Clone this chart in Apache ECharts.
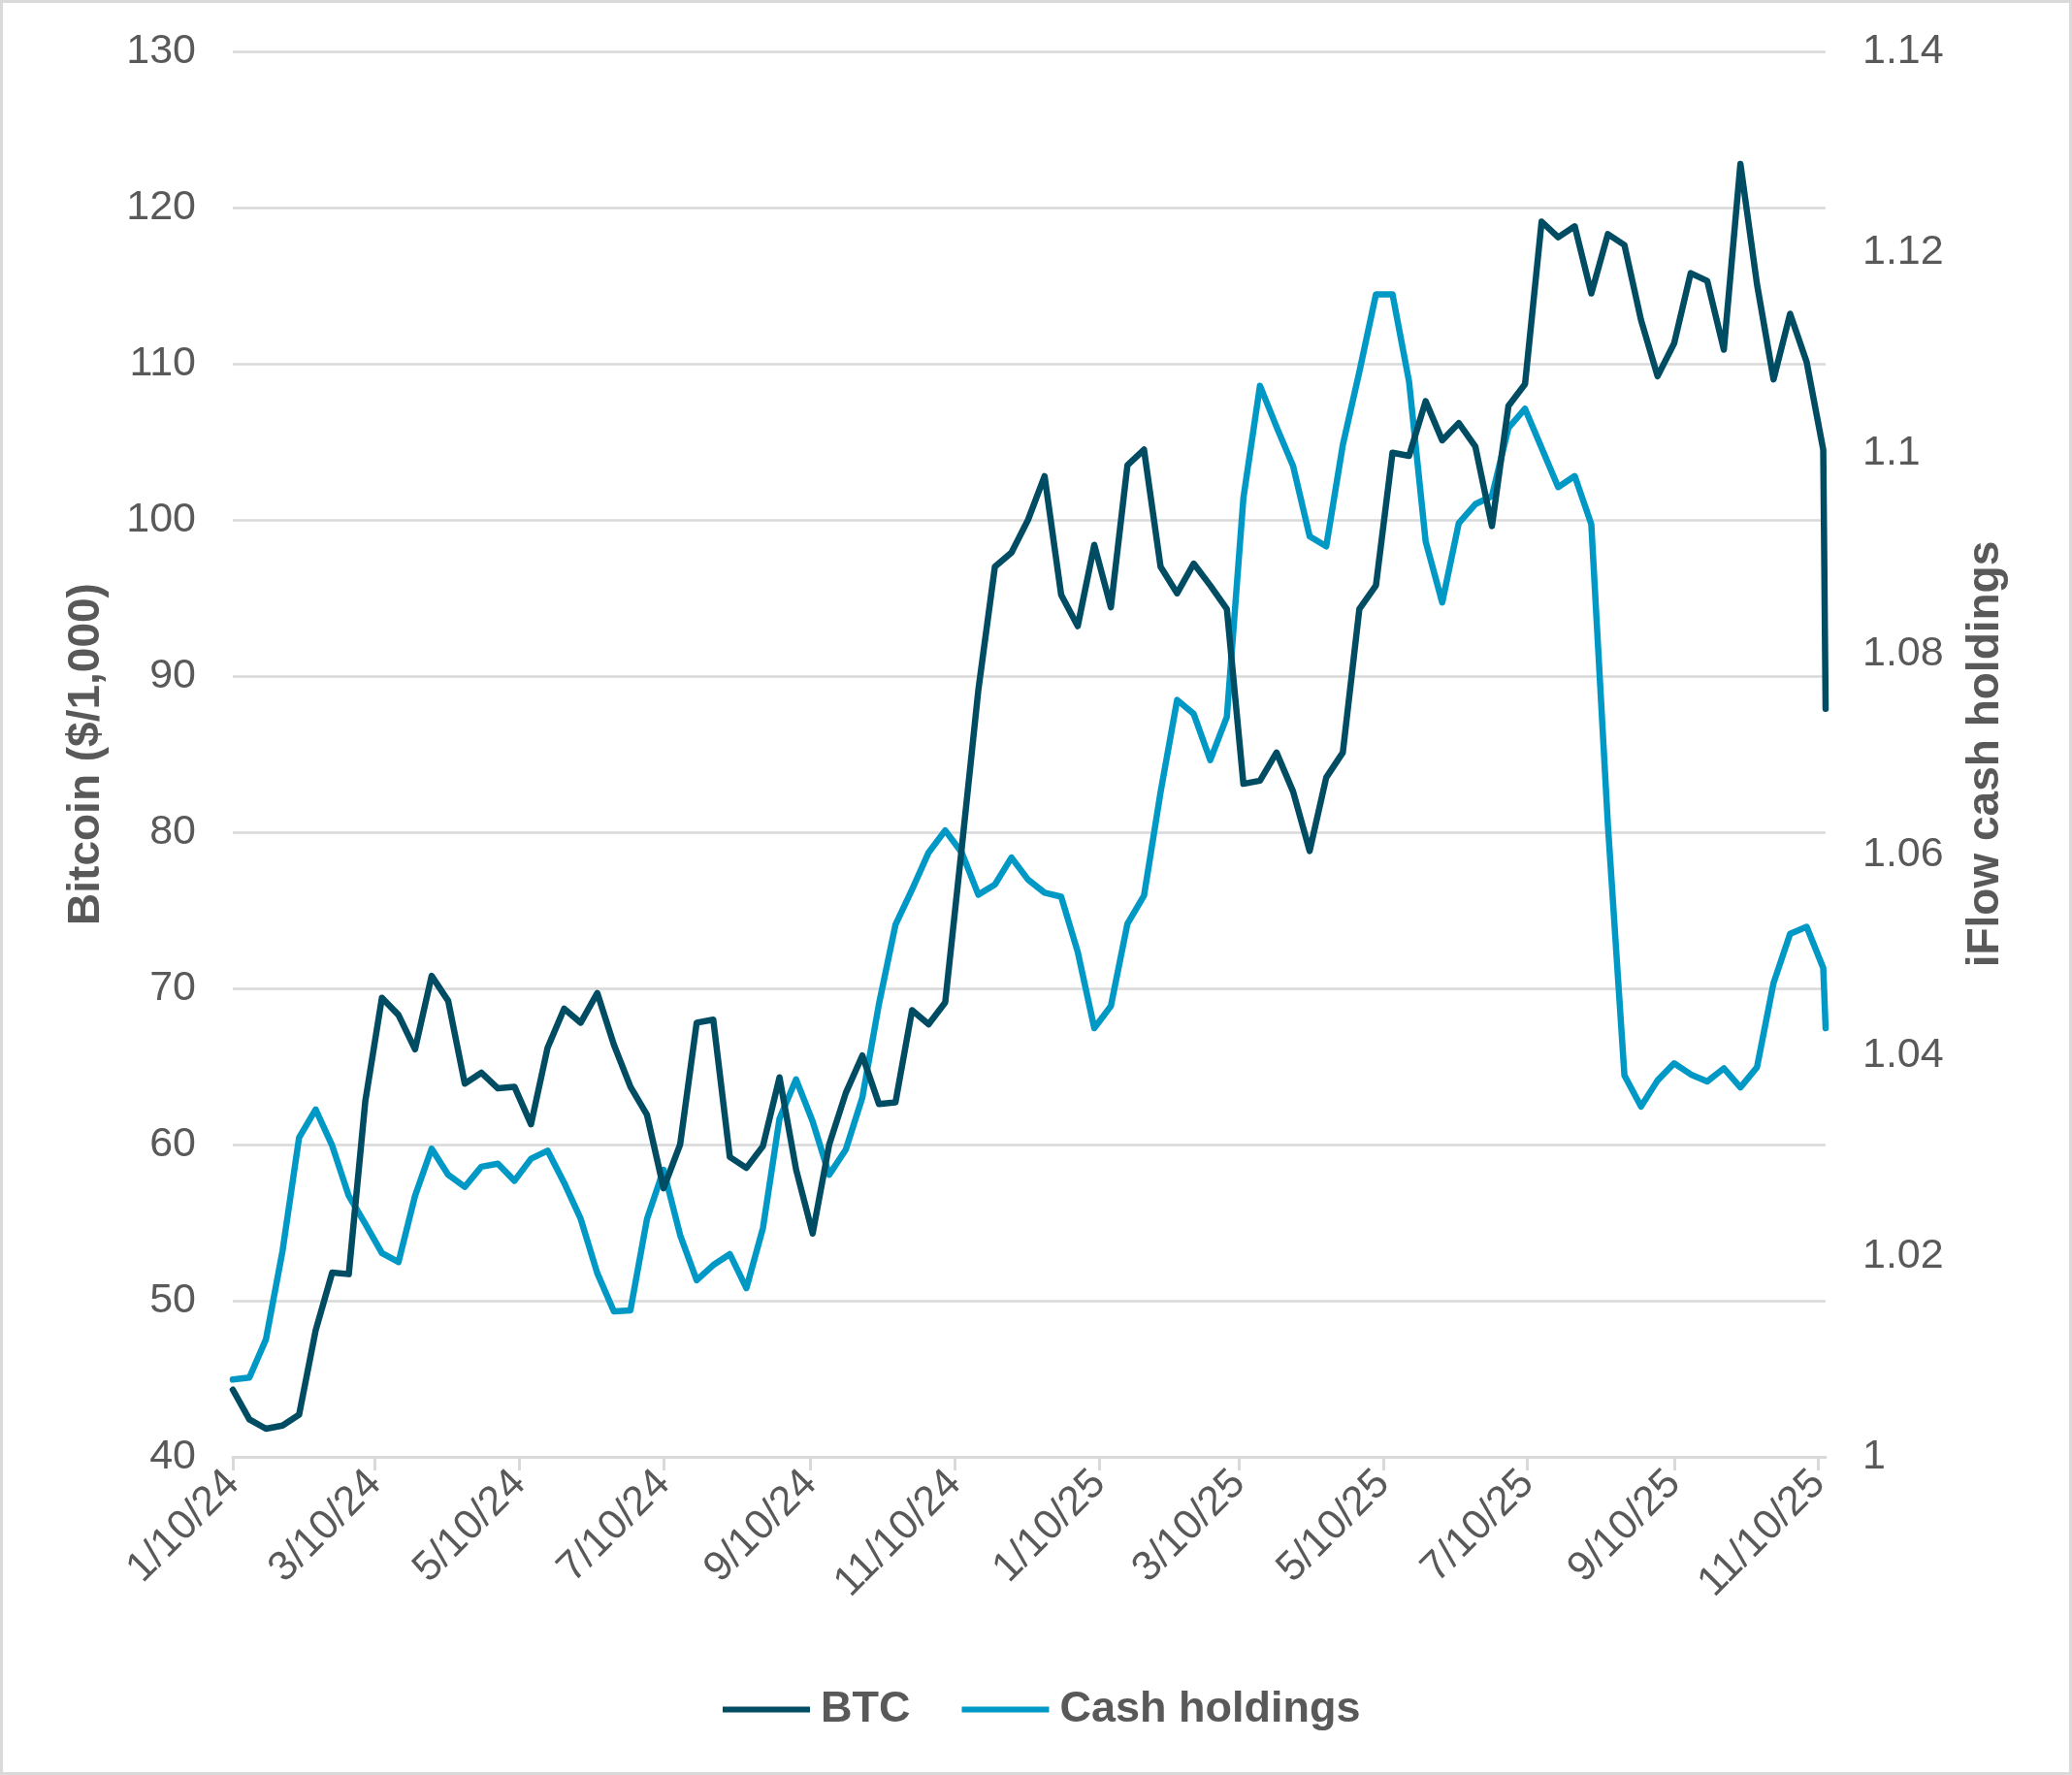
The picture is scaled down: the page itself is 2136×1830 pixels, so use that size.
<!DOCTYPE html>
<html>
<head>
<meta charset="utf-8">
<script src="https://cdn.jsdelivr.net/npm/echarts@6/dist/echarts.min.js"></script>
<style>
html,body{margin:0;padding:0;background:#fff;}
#c{position:absolute;left:0;top:0;width:2136px;height:1830px;}
#f{position:absolute;left:0;top:0;width:2136px;height:1830px;box-sizing:border-box;border:3px solid #d9d9d9;pointer-events:none;}
</style>
</head>
<body>
<div id="c"></div>
<div id="f"></div>
<script>
// Axis range (daily date axis)
const startDate = '2024-01-10';
const endDate = '2025-11-13';
// Tick labels shown on the x axis
const tickLabels = ['1/10/24','3/10/24','5/10/24','7/10/24','9/10/24','11/10/24','1/10/25','3/10/25','5/10/25','7/10/25','9/10/25','11/10/25'];
const leftTicks = [40, 130, 10];
const rightTicks = [1, 1.14, 0.02];

// Weekly observations (Wednesdays from 1/10/24) plus a final print on 11/13/25
const btcValues = [
 44.3,42.4,41.8,42.0,42.7,48.1,51.8,51.7,62.8,69.4,
 68.3,66.1,70.8,69.2,63.9,64.6,63.6,63.7,61.3,66.2,
 68.7,67.8,69.7,66.4,63.7,61.9,57.2,60.0,67.8,68.0,
 59.2,58.5,59.9,64.3,58.4,54.3,60.0,63.3,65.7,62.6,
 62.7,68.6,67.7,69.1,79.0,89.1,97.0,97.9,100.0,102.8,
 95.2,93.2,98.4,94.4,103.5,104.5,97.0,95.3,97.2,95.8,
 94.3,83.1,83.3,85.1,82.6,78.8,83.5,85.1,94.3,95.8,
 104.3,104.1,107.6,105.1,106.2,104.7,99.6,107.3,108.7,119.1,
 118.1,118.8,114.5,118.3,117.6,112.8,109.2,111.3,115.8,115.3,
 110.9,122.8,115.1,109.0,113.2,110.1,104.5,87.9
];
const cashValues = [
 1.0077,1.0079,1.0117,1.0205,1.0318,1.0346,1.0310,1.0260,1.0232,1.0203,
 1.0194,1.0260,1.0307,1.0281,1.0269,1.0289,1.0292,1.0275,1.0297,1.0305,
 1.0273,1.0237,1.0183,1.0145,1.0146,1.0237,1.0286,1.0221,1.0176,1.0191,
 1.0202,1.0168,1.0228,1.0337,1.0376,1.0334,1.0281,1.0306,1.0358,1.0451,
 1.0530,1.0565,1.0602,1.0624,1.0602,1.0560,1.0570,1.0597,1.0575,1.0562,
 1.0558,1.0503,1.0427,1.0449,1.0531,1.0559,1.0662,1.0754,1.0740,1.0694,
 1.0737,1.0955,1.1067,1.1026,1.0987,1.0917,1.0907,1.1008,1.1081,1.1158,
 1.1158,1.1071,1.0912,1.0851,1.0930,1.0949,1.0957,1.1025,1.1044,1.1005,
 1.0966,1.0977,1.0929,1.0630,1.0380,1.0349,1.0375,1.0392,1.0381,1.0374,
 1.0387,1.0368,1.0388,1.0472,1.0521,1.0528,1.0487,1.0427
];

const DAY = 86400000;
const t0 = Date.parse(startDate + 'T00:00:00Z');
const t1 = Date.parse(endDate + 'T00:00:00Z');
const nDays = Math.round((t1 - t0) / DAY);
function fmt(t){const d=new Date(t);return (d.getUTCMonth()+1)+'/'+d.getUTCDate()+'/'+String(d.getUTCFullYear()).slice(2);}
const categories = [];
for (let k = 0; k <= nDays; k++) categories.push(fmt(t0 + k * DAY));
// day offsets of the observations: weekly, last one on endDate
const obsIdx = btcValues.map((v, i) => (i === btcValues.length - 1) ? nDays : i * 7);
const tickSet = new Set(tickLabels);
const showTick = (idx, val) => tickSet.has(val);

const gray = '#595959';
const grid = '#d9d9d9';
const font = '"Liberation Sans", Arial, sans-serif';

const chart = echarts.init(document.getElementById('c'), null, {renderer: 'canvas'});
chart.setOption({
  animation: false,
  backgroundColor: '#fff',
  textStyle: {fontFamily: font},
  grid: {left: 240, right: 254, top: 53, bottom: 328, containLabel: false},
  legend: {
    data: ['BTC', 'Cash holdings'],
    left: 740, top: 1735,
    icon: 'rect', itemWidth: 90, itemHeight: 6, itemGap: 53,
    textStyle: {fontSize: 45, fontWeight: 'bold', color: gray, fontFamily: font, padding: [0,0,0,6]}
  },
  xAxis: {
    type: 'category', data: categories, boundaryGap: false,
    axisLine: {show: true, lineStyle: {color: grid, width: 3}},
    axisTick: {show: true, interval: showTick, length: 14, lineStyle: {color: grid, width: 3}},
    axisLabel: {interval: showTick, rotate: 45, margin: 21, fontSize: 43, color: gray, fontFamily: font},
    splitLine: {show: false}
  },
  yAxis: [{
    type: 'value', min: leftTicks[0], max: leftTicks[1], interval: leftTicks[2], position: 'left',
    name: 'Bitcoin ($/1,000)', nameLocation: 'middle', nameRotate: 90, nameGap: 128,
    nameTextStyle: {fontSize: 46, fontWeight: 'bold', color: gray, fontFamily: font},
    axisLine: {show: false}, axisTick: {show: false},
    axisLabel: {fontSize: 43, color: gray, margin: 38, fontFamily: font},
    splitLine: {show: true, lineStyle: {color: grid, width: 2.7}}
  }, {
    type: 'value', min: rightTicks[0], max: rightTicks[1], interval: rightTicks[2], position: 'right',
    name: 'iFlow cash holdings', nameLocation: 'middle', nameRotate: 90, nameGap: 142,
    nameTextStyle: {fontSize: 46, fontWeight: 'bold', color: gray, fontFamily: font},
    axisLine: {show: false}, axisTick: {show: false},
    axisLabel: {fontSize: 43, color: gray, margin: 38, fontFamily: font,
      formatter: v => String(+v.toFixed(2))},
    splitLine: {show: false}
  }],
  series: [{
    name: 'BTC', type: 'line', yAxisIndex: 0, showSymbol: false, symbol: 'none',
    data: btcValues.map((v, i) => [obsIdx[i], v]),
    lineStyle: {color: '#004c63', width: 6.5, cap: 'round', join: 'round'},
    itemStyle: {color: '#004c63'}, z: 3
  }, {
    name: 'Cash holdings', type: 'line', yAxisIndex: 1, showSymbol: false, symbol: 'none',
    data: cashValues.map((v, i) => [obsIdx[i], v]),
    lineStyle: {color: '#0099c6', width: 6.5, cap: 'round', join: 'round'},
    itemStyle: {color: '#0099c6'}, z: 2
  }]
});
</script>
</body>
</html>
